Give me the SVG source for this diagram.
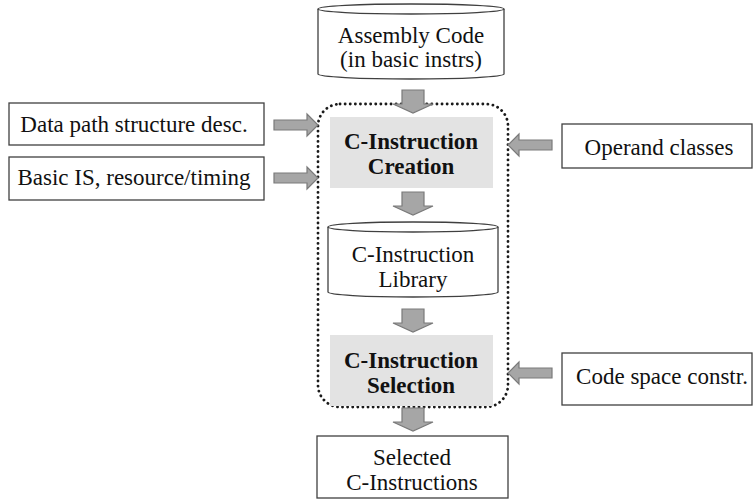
<svg xmlns="http://www.w3.org/2000/svg" width="753" height="500" viewBox="0 0 753 500">
  <style>
    .box { fill: #ffffff; stroke: #404040; stroke-width: 1.3; }
    .cyl { fill: #ffffff; stroke: #404040; stroke-width: 1.3; }
    .step { fill: #e3e3e3; stroke: none; }
    .group { fill: none; stroke: #1a1a1a; stroke-width: 2.8; stroke-dasharray: 0.1 5; stroke-linecap: round; }
    .arrow { fill: #a6a6a6; stroke: #7a7a7a; stroke-width: 1.2; stroke-linejoin: miter; }
    text { font-family: "Times New Roman", "Liberation Serif", Tinos, serif; font-size: 23px; fill: #111111; text-anchor: middle; }
    .bold { font-weight: bold; }
  </style>
  <defs>
    <!-- block arrow pointing down, origin at shaft top center -->
    <path id="down" d="M -11 0 H 11 V 14 H 20 L 0 23 L -20 14 H -11 Z"/>
    <!-- block arrow pointing right, origin at shaft left center -->
    <path id="right" d="M 0 -5 H 33 V -11 L 44 0 L 33 11 V 5 H 0 Z"/>
  </defs>

  <!-- dotted boundary around the creation/selection core -->
  <rect class="group" x="318" y="104" width="190" height="303" rx="22" ry="22"/>

  <g id="assembly-code">
    <path class="cyl" d="M 318 9 A 93 5 0 0 1 504 9 V 74 A 93 5 0 0 1 318 74 Z"/>
    <path class="cyl" d="M 318 9 A 93 5 0 0 0 504 9" fill="none"/>
    <text x="411" y="43" font-family="Liberation Serif, serif">Assembly Code</text>
    <text x="411" y="67" font-family="Liberation Serif, serif">(in basic instrs)</text>
  </g>

  <g id="ci-creation">
    <rect class="step" x="330" y="117" width="163" height="71"/>
    <text class="bold" x="411" y="149">C-Instruction</text>
    <text class="bold" x="411" y="174">Creation</text>
  </g>

  <g id="ci-library">
    <path class="cyl" d="M 328 227 A 85 5 0 0 1 498 227 V 292 A 85 5 0 0 1 328 292 Z"/>
    <path class="cyl" d="M 328 227 A 85 5 0 0 0 498 227" fill="none"/>
    <text x="413" y="262">C-Instruction</text>
    <text x="413" y="287">Library</text>
  </g>

  <g id="ci-selection">
    <rect class="step" x="330" y="335" width="163" height="71"/>
    <text class="bold" x="411" y="368">C-Instruction</text>
    <text class="bold" x="411" y="393">Selection</text>
  </g>

  <g id="selected-ci">
    <rect class="box" x="317" y="436" width="191" height="62"/>
    <text x="412" y="465">Selected</text>
    <text x="412" y="490">C-Instructions</text>
  </g>

  <g id="datapath-desc">
    <rect class="box" x="9" y="103" width="255" height="42"/>
    <text x="134" y="132">Data path structure desc.</text>
  </g>

  <g id="basic-is">
    <rect class="box" x="9" y="157" width="255" height="43"/>
    <text x="134" y="185">Basic IS, resource/timing</text>
  </g>

  <g id="operand-classes">
    <rect class="box" x="562" y="124" width="190" height="44"/>
    <text x="659" y="155">Operand classes</text>
  </g>

  <g id="code-space">
    <rect class="box" x="562" y="353" width="190" height="52"/>
    <text x="662" y="384">Code space constr.</text>
  </g>

  <g id="connectors">
    <use href="#down" class="arrow" transform="translate(413,90)"/>
    <use href="#down" class="arrow" transform="translate(413,192)"/>
    <use href="#down" class="arrow" transform="translate(413,309)"/>
    <use href="#down" class="arrow" transform="translate(413,408)"/>
    <use href="#right" class="arrow" transform="translate(274,125)"/>
    <use href="#right" class="arrow" transform="translate(274,178)"/>
    <use href="#right" class="arrow" transform="translate(552,145) scale(-1,1)"/>
    <use href="#right" class="arrow" transform="translate(552,373) scale(-1,1)"/>
  </g>
</svg>
